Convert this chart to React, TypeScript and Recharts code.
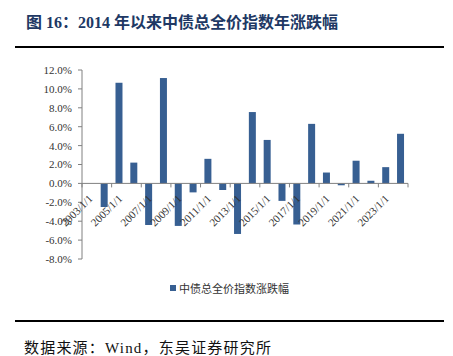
import { Bar, BarChart, ReferenceLine, XAxis, YAxis } from 'recharts';

const years = [
  '2003/1/1', '2004/1/1', '2005/1/1', '2006/1/1', '2007/1/1', '2008/1/1',
  '2009/1/1', '2010/1/1', '2011/1/1', '2012/1/1', '2013/1/1', '2014/1/1',
  '2015/1/1', '2016/1/1', '2017/1/1', '2018/1/1', '2019/1/1', '2020/1/1',
  '2021/1/1', '2022/1/1', '2023/1/1', '2024/1/1',
];
const changes = [
  null, -2.5, 10.65, 2.2, -4.4, 11.15, -4.5, -0.95, 2.6, -0.7, -5.35, 7.55,
  4.6, -1.85, -4.35, 6.3, 1.15, -0.2, 2.4, 0.28, 1.72, 5.25,
];
const yTicks = [-8, -6, -4, -2, 0, 2, 4, 6, 8, 10, 12];

const SERIES = '中债总全价指数涨跌幅';
const data = years.map((d, i) => ({ date: d, value: changes[i] }));

const W = 453;
const H = 300;
const M = { top: 70, right: 45, left: 0, bottom: 0 };
const Y_W = 82;
const X_H = 41;
const PLOT_H = H - M.top - M.bottom - X_H;
const PLOT_W = W - M.left - M.right - Y_W;
const BAND = PLOT_W / years.length;
const Y_MIN = -8;
const Y_MAX = 12;
const BLUE = '#375f92';
const AXIS = '#808080';

function XTick(props: any) {
  const { x, y, index, payload } = props;
  // the axis sits at plot bottom; labels hang from the zero line
  const zy = y - (PLOT_H * (0 - Y_MIN)) / (Y_MAX - Y_MIN);
  const ax = x + 4;
  const ay = zy + 16;
  const last = index === years.length - 1;
  return (
    <g>
      {index % 2 === 0 && (
        <>
          <line x1={x - BAND / 2} x2={x - BAND / 2} y1={zy} y2={zy + 4} stroke={AXIS} />
          <text
            x={ax}
            y={ay}
            transform={`rotate(-45, ${ax}, ${ay})`}
            textAnchor="end"
            fontSize={11}
            fontFamily="'Liberation Serif', serif"
            fill="#333"
          >
            {payload.value}
          </text>
        </>
      )}
      {last && <line x1={x + BAND / 2} x2={x + BAND / 2} y1={zy} y2={zy + 4} stroke={AXIS} />}
    </g>
  );
}

export default function App() {
  return (
    <div style={{ position: 'absolute', left: 0, top: 0, width: W, height: 356, background: '#fff' }}>
      <div
        style={{
          position: 'absolute',
          left: 26,
          top: 12,
          fontSize: 16,
          fontWeight: 'bold',
          color: '#203864',
          fontFamily: "'Liberation Serif', 'Noto Sans CJK SC', serif",
          whiteSpace: 'nowrap',
          lineHeight: '22px',
        }}
      >
        图 16：2014 年以来中债总全价指数年涨跌幅
      </div>
      <div style={{ position: 'absolute', left: 15, top: 46, width: 429, height: 2, background: '#000' }} />

      <div style={{ position: 'absolute', left: 0, top: 0 }}>
        <BarChart width={W} height={H} data={data} margin={M} barCategoryGap="26%">
          <XAxis
            dataKey="date"
            interval={0}
            height={X_H}
            axisLine={false}
            tickLine={false}
            tickSize={0}
            tickMargin={0}
            tick={<XTick />}
          />
          <YAxis
            width={Y_W}
            domain={[Y_MIN, Y_MAX]}
            ticks={yTicks}
            tickSize={4}
            tickMargin={6}
            axisLine={{ stroke: AXIS }}
            tickLine={{ stroke: AXIS }}
            tickFormatter={(v: number) => `${v.toFixed(1)}%`}
            tick={{ fontSize: 11, fill: '#333', fontFamily: "'Liberation Serif', serif" }}
          />
          <ReferenceLine y={0} stroke={AXIS} />
          <Bar dataKey="value" name={SERIES} fill={BLUE} isAnimationActive={false} />
        </BarChart>
      </div>

      <div
        style={{
          position: 'absolute',
          left: 170,
          top: 280,
          display: 'flex',
          alignItems: 'center',
          fontSize: 11,
          color: '#333',
          fontFamily: "'Noto Sans CJK SC', sans-serif",
          whiteSpace: 'nowrap',
        }}
      >
        <span style={{ display: 'inline-block', width: 6, height: 6, background: BLUE, marginRight: 3 }} />
        {SERIES}
      </div>

      <div style={{ position: 'absolute', left: 15, top: 320, width: 429, height: 2, background: '#000' }} />
      <div
        style={{
          position: 'absolute',
          left: 24,
          top: 338,
          fontSize: 15,
          letterSpacing: 1.2,
          color: '#111',
          fontFamily: "'Liberation Serif', 'Noto Sans CJK SC', serif",
          whiteSpace: 'nowrap',
          lineHeight: '20px',
        }}
      >
        数据来源：Wind，东吴证券研究所
      </div>
    </div>
  );
}
